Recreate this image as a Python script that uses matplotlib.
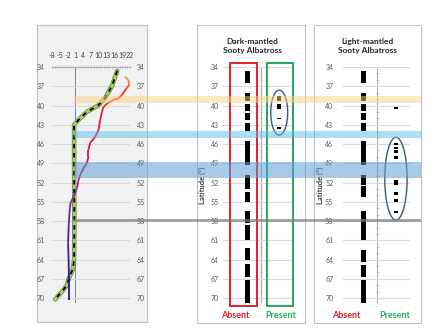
import numpy as np
import matplotlib
matplotlib.use("Agg")
import matplotlib.pyplot as plt
from matplotlib.patches import Rectangle, Ellipse
from matplotlib.collections import LineCollection
from matplotlib.colors import LinearSegmentedColormap

plt.rcParams['font.family'] = ['Lato', 'DejaVu Sans']
plt.rcParams['axes.unicode_minus'] = False

# left chart: two profiles against latitude
green_val = [17.1, 15.0, 12.5, 9.7, 5.4, 2.8, 0.5, 0.5, 0.6, 0.5, 0.0, -1.6, -2.3, -4.2, -5.6, -6.7]
green_lat = [34.6, 37.0, 38.8, 40.0, 41.0, 42.0, 43.0, 50.0, 58.0, 64.0, 65.5, 67.0, 68.0, 69.0, 69.6, 70.2]
red_val = [20.0, 21.3, 21.7, 20.7, 18.8, 17.5, 15.6, 13.1, 11.8, 11.2, 10.5, 9.9, 8.6, 6.7, 6.0, 6.0,
           5.4, 4.1, 2.8, 2.2, 1.6, 0.3, -0.9, -1.3, -1.6, -1.8, -1.6, -1.5, -1.5]
red_lat = [35.5, 36.0, 36.8, 37.3, 38.4, 38.9, 39.1, 39.7, 40.2, 41.0, 42.3, 43.8, 44.9, 45.8, 46.9, 48.0,
           49.0, 49.8, 50.8, 51.6, 52.9, 54.2, 55.2, 56.8, 58.9, 61.5, 64.1, 66.7, 70.3]

lat_ticks = list(range(34, 71, 3))
x_ticks = list(range(-8, 23, 3))

# latitude ranges where birds were absent / present
dark_absent = [(34.7, 36.5), (38.0, 39.3), (39.7, 40.8), (41.1, 42.3), (42.7, 43.9), (45.5, 49.2),
               (50.8, 53.0), (53.4, 55.1), (56.5, 58.3), (58.6, 61.0), (62.2, 64.0), (64.7, 66.7), (67.1, 70.7)]
dark_present = [(38.5, 39.3), (39.8, 40.6), (41.9, 42.1), (43.4, 43.6)]
light_absent = [(34.6, 36.5), (38.0, 39.3), (39.7, 40.8), (41.1, 42.3), (42.7, 43.9), (45.6, 49.2),
                (50.8, 52.4), (52.6, 54.2), (56.5, 61.0), (62.5, 64.3), (64.8, 66.7), (67.2, 70.7)]
light_present = [(40.3, 40.5), (45.9, 46.1), (46.4, 46.8), (47.0, 47.4), (47.8, 48.3),
                 (51.6, 52.4), (53.4, 53.9), (54.6, 55.1), (56.5, 56.8)]

# highlighted latitude bands
band_lo = [38.5, 43.95, 48.8, 57.6]
band_hi = [39.6, 45.0, 51.35, 58.2]
band_col = ['#fad58a', '#5bbde6', '#5f9fd8', '#7f7f7f']
band_alpha = [0.5, 0.5, 0.55, 0.7]

W, H = 448, 336
LAT_MIN, LAT_MAX = 34, 70.8
Y0, Y1 = 67, 303.3

fig = plt.figure(figsize=(W / 100, H / 100), dpi=100)


def px_axes(x0, y0, x1, y1, **kw):
    return fig.add_axes([x0 / W, 1 - y1 / H, (x1 - x0) / W, (y1 - y0) / H], **kw)


def px_box(x0, y0, x1, y1, fc):
    fig.add_artist(Rectangle((x0 / W, 1 - y1 / H), (x1 - x0) / W, (y1 - y0) / H,
                             transform=fig.transFigure, fc=fc, ec='#bfbfbf', lw=0.8, zorder=-1))


px_box(37, 25, 147, 322, '#f2f2f2')
px_box(197, 25, 305, 323, 'white')
px_box(314, 25, 421, 323, 'white')

# ---- left panel ----
ax = px_axes(52, Y0, 130, Y1)
ax.set_facecolor('none')
ax.set_xlim(-8, 22)
ax.set_ylim(LAT_MAX, LAT_MIN)
ax.xaxis.tick_top()
ax.set_xticks(x_ticks)
ax.set_xticks(np.arange(-8, 23, 1), minor=True)
ax.set_yticks(lat_ticks)
ax.grid(axis='y', color='#d9d9d9', lw=0.8)
for s in ['left', 'right', 'bottom']:
    ax.spines[s].set_visible(False)
ax.spines['top'].set_color('#a6a6a6')
ax.spines['top'].set_linewidth(0.6)
ax.tick_params(axis='x', which='both', direction='inout', colors='#a6a6a6', labelcolor='#404040',
               labelsize=5, pad=5, length=2)
ax.tick_params(axis='x', which='minor', length=1.5)
ax.tick_params(axis='y', length=0, labelleft=True, labelright=True, labelsize=5, labelcolor='#595959', pad=5)
ax.axvline(0.7, color='#7f7f9f', lw=0.7, zorder=1)

ax.plot(green_val, green_lat, color='#5f7a2a', lw=3.2, solid_capstyle='round', zorder=2)
ax.plot(green_val, green_lat, color='#a9cc6b', lw=2.3, solid_capstyle='round', zorder=3)
ax.plot(green_val, green_lat, color='black', lw=1.3, dashes=(2.5, 2.5), zorder=4)

pts = np.column_stack([red_val, red_lat])
segs = np.stack([pts[:-1], pts[1:]], axis=1)
cmap = LinearSegmentedColormap.from_list('prof', [(0, '#f7a040'), (0.06, '#ff3010'), (0.25, '#f01030'),
                                                  (0.42, '#c0187a'), (0.55, '#7a2aa8'), (0.75, '#4a16a8'),
                                                  (1, '#1c1490')])
mid = (np.array(red_lat[:-1]) + np.array(red_lat[1:])) / 2
lc = LineCollection(segs, colors=cmap((mid - 35.5) / (70.3 - 35.5)), lw=1.3, zorder=5)
ax.add_collection(lc)


# ---- presence / absence panels ----
def presence_panel(x0, x1, xlim, absent, present, ell, lab_x, pad, title, tx, absent_x, present_x):
    a = px_axes(x0, Y0, x1, Y1)
    a.set_facecolor('none')
    a.set_xlim(*xlim)
    a.set_ylim(LAT_MAX, LAT_MIN)
    a.set_yticks(lat_ticks)
    a.set_xticks([])
    a.grid(axis='y', color='#d9d9d9', lw=0.8)
    for s in a.spines.values():
        s.set_visible(False)
    a.tick_params(axis='y', length=0, labelsize=5, labelcolor='#595959', pad=pad)
    a.set_ylabel('Latitude (°)', fontsize=5.5, fontweight='bold', color='#404040')
    a.yaxis.set_label_coords(lab_x, 0.5)
    a.vlines(0.43, LAT_MIN, LAT_MAX, color='#b0b0b0', lw=0.8, zorder=1)
    a.hlines(np.arange(35, 71, 1), 0.39, 0.47, color='#b0b0b0', lw=0.5, zorder=1)
    ab = np.array(absent)
    a.bar(np.zeros(len(ab)), ab[:, 1] - ab[:, 0], bottom=ab[:, 0], width=0.14, color='black', zorder=3)
    pr = np.array(present)
    a.bar(np.ones(len(pr)), pr[:, 1] - pr[:, 0], bottom=pr[:, 0], width=0.13, color='black', zorder=3)
    if ell is not None:
        a.add_patch(Ellipse((1, ell[0]), ell[1], ell[2], fill=False, ec='#3f5a78', lw=1.0, zorder=4))
    fig.text(tx / W, 1 - 46 / H, title, ha='center', va='center', fontsize=6, fontweight='bold',
             color='#262626', linespacing=1.35)
    fig.text(absent_x / W, 1 - 315 / H, 'Absent', ha='center', va='center', fontsize=6.5,
             fontweight='bold', color='#e0202a')
    fig.text(present_x / W, 1 - 315 / H, 'Present', ha='center', va='center', fontsize=6.5,
             fontweight='bold', color='#2aa862')
    return a


am = presence_panel(223, 292, (-0.76, 1.40), dark_absent, dark_present, (41.1, 0.53, 7.0),
                    -0.24, 3, 'Dark-mantled\nSooty Albatross', 252, 235.5, 280.5)
am.add_patch(Rectangle((-0.54, 33.4), 0.83, 37.8, fill=False, ec='#e0202a', lw=1.4, clip_on=False, zorder=4))
am.add_patch(Rectangle((0.625, 33.4), 0.795, 37.8, fill=False, ec='#1fa85a', lw=1.4, clip_on=False, zorder=4))

ar = presence_panel(343, 410, (-0.634, 1.434), light_absent, light_present, (51.4, 0.69, 12.9),
                    -0.28, 7, 'Light-mantled\nSooty Albatross', 367.5, 346, 395)

# ---- highlight bands across the panels ----
ov = px_axes(74, Y0, 421, Y1, zorder=10)
ov.set_facecolor('none')
ov.set_ylim(LAT_MAX, LAT_MIN)
ov.axis('off')
for lo, hi, c, al in zip(band_lo, band_hi, band_col, band_alpha):
    ov.axhspan(lo, hi, color=c, alpha=al, lw=0)

fig.savefig('out.png', dpi=100)
